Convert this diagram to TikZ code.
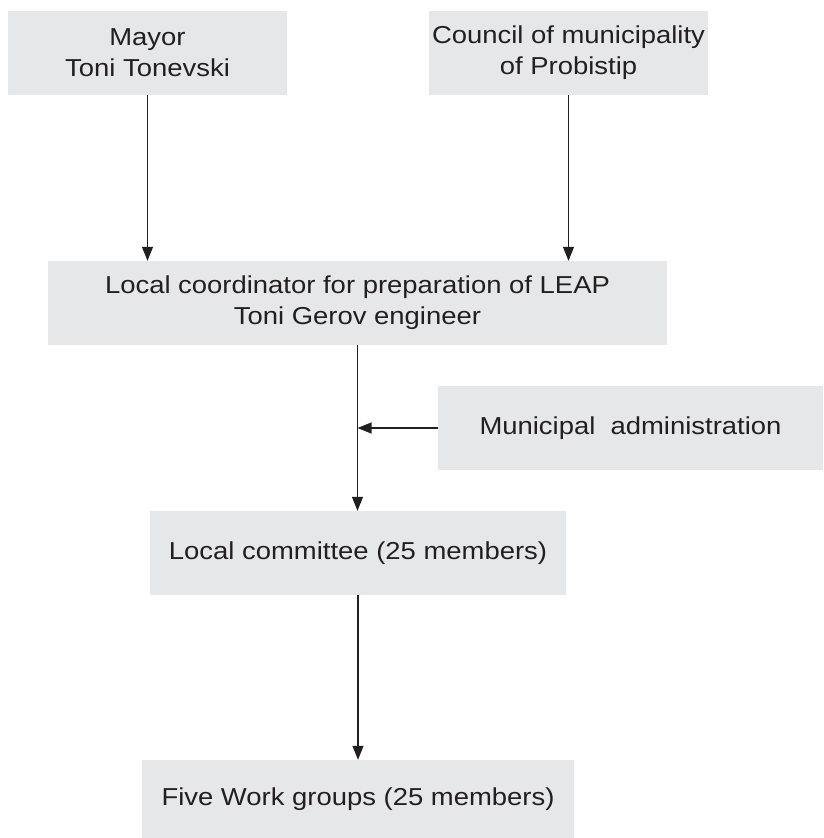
\documentclass[tikz,border=0pt]{standalone}
\usepackage{fontspec}
\setmainfont{Liberation Sans}[FakeStretch=1.12]
\usetikzlibrary{arrows.meta}
\definecolor{boxgray}{HTML}{E6E7E8}
\definecolor{ink}{HTML}{231F20}
\begin{document}
\begin{tikzpicture}[x=1pt,y=-1pt,
  box/.style={fill=boxgray, draw=none, inner sep=0pt, align=center, text=ink,
    font=\fontsize{24.5}{31}\selectfont},
  conn/.style={draw=ink, line width=1.2pt, -{Triangle[length=14pt,width=11pt]}}]
\useasboundingbox (0,0) rectangle (823,838);
\node[box, minimum width=279pt, minimum height=84pt] (mayor) at (147.5,53) {Mayor\\Toni Tonevski};
\node[box, minimum width=279pt, minimum height=84pt] (council) at (568.5,53) {Council of municipality\\of Probistip};
\node[box, minimum width=619pt, minimum height=84pt] (coord) at (357.5,303) {Local coordinator for preparation of LEAP\\Toni Gerov engineer};
\node[box, minimum width=385pt, minimum height=84pt] (admin) at (630.5,428) {Municipal\ \ administration};
\node[box, minimum width=416pt, minimum height=84pt] (comm) at (358,553) {Local committee (25 members)};
\node[box, minimum width=432pt, minimum height=78pt] (work) at (358,799) {Five Work groups (25 members)};
\coordinate (j) at (coord.south |- admin.west);
\draw[conn] (mayor.south) -- (mayor.south |- coord.north);
\draw[conn] (council.south) -- (council.south |- coord.north);
\draw[conn] (coord.south) -- (coord.south |- comm.north);
\draw[conn] (admin.west) -- (j);
\draw[conn] (comm.south) -- (work.north);
\end{tikzpicture}
\end{document}
